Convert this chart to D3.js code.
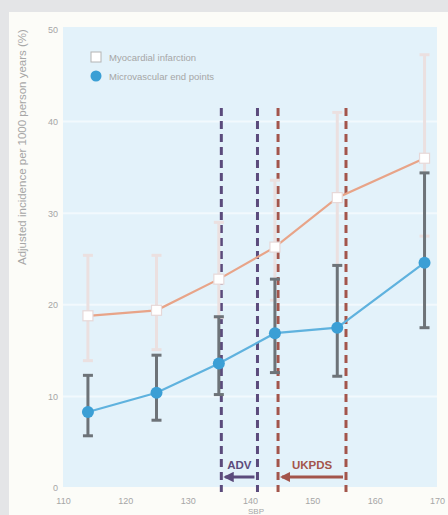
<!DOCTYPE html>
<html>
<head>
<meta charset="utf-8">
<script src="https://cdn.jsdelivr.net/npm/d3@7"></script>
<style>
  body { margin: 0; background: #e4e5e7; }
  svg { display: block; font-family: "Liberation Sans", Arial, sans-serif; }
</style>
</head>
<body>
<div id="chart"></div>
<script>
// data
const sbp = [114, 125, 135, 144, 154, 168];
const miMean = [18.8, 19.4, 22.8, 26.3, 31.7, 36.0];
const miHigh = [25.4, 25.4, 29.0, 33.6, 41.0, 47.3];
const miLow = [13.9, 15.1, 18.6, 20.5, 24.3, 27.5];
const mvMean = [8.3, 10.4, 13.6, 16.9, 17.5, 24.6];
const mvHigh = [12.3, 14.5, 18.7, 22.8, 24.3, 34.4];
const mvLow = [5.7, 7.4, 10.2, 12.6, 12.2, 17.5];
const xTicks = [110, 120, 130, 140, 150, 160, 170];
const yTicks = [0, 10, 20, 30, 40, 50];
const trials = [
  { name: "ADV", from: 141.2, to: 135.4, color: "#5b4b7c" },
  { name: "UKPDS", from: 155.4, to: 144.5, color: "#a3554b" }
];
const legendLabels = ["Myocardial infarction", "Microvascular end points"];

const width = 448, height = 515;
const plot = { left: 63, right: 437, top: 27, bottom: 487 };

const svg = d3.select("#chart").append("svg")
  .attr("width", width)
  .attr("height", height);

// card + plot background
svg.append("rect").attr("x", 9).attr("y", 12).attr("width", width - 9).attr("height", height - 12)
  .attr("fill", "#fcfcf8");
svg.append("rect").attr("x", plot.left).attr("y", plot.top)
  .attr("width", plot.right - plot.left).attr("height", plot.bottom - plot.top)
  .attr("fill", "#e3f2fa");

const x = d3.scaleLinear().domain([110, 170]).range([plot.left, plot.right]);
const y = d3.scaleLinear().domain([0, 50]).range([488, 30]);

// faint white gridlines
svg.append("g").selectAll("line")
  .data(yTicks.slice(1, 5))
  .join("line")
  .attr("x1", plot.left).attr("x2", plot.right)
  .attr("y1", d => y(d)).attr("y2", d => y(d))
  .attr("stroke", "#f2f9fd").attr("stroke-width", 2);

// axes (labels only)
const yAxis = svg.append("g")
  .attr("transform", `translate(${plot.left - 2},0)`)
  .call(d3.axisLeft(y).tickValues(yTicks).tickSize(0).tickPadding(3));
const xAxis = svg.append("g")
  .attr("transform", `translate(0,${495})`)
  .call(d3.axisBottom(x).tickValues(xTicks).tickSize(0).tickPadding(3));
[yAxis, xAxis].forEach(a => {
  a.select(".domain").remove();
  a.selectAll("text").attr("fill", "#a6a6a6").attr("font-size", 9);
});

svg.append("text")
  .attr("transform", `translate(26,265) rotate(-90)`)
  .attr("font-size", 11.5)
  .attr("fill", "#a6a6a6")
  .text("Adjusted incidence per 1000 person years (%)");

svg.append("text")
  .attr("x", 256).attr("y", 514)
  .attr("text-anchor", "middle")
  .attr("font-size", 8)
  .attr("fill", "#a6a6a6")
  .text("SBP");

// dashed trial lines + arrows
svg.append("defs").selectAll("marker")
  .data(trials)
  .join("marker")
  .attr("id", (d, i) => "arr" + i)
  .attr("viewBox", "0 0 10 10")
  .attr("refX", 8).attr("refY", 5)
  .attr("markerWidth", 3.5).attr("markerHeight", 3.5)
  .attr("orient", "auto")
  .append("path").attr("d", "M0,0 L10,5 L0,10 Z")
  .attr("fill", d => d.color);

trials.forEach((t, i) => {
  const g = svg.append("g");
  [t.from, t.to].forEach(v => {
    g.append("line")
      .attr("x1", x(v)).attr("x2", x(v))
      .attr("y1", 108).attr("y2", 492)
      .attr("stroke", t.color).attr("stroke-width", 3)
      .attr("stroke-dasharray", "8,5");
  });
  g.append("line")
    .attr("x1", x(t.from) - 3).attr("x2", x(t.to) + 4)
    .attr("y1", 477).attr("y2", 477)
    .attr("stroke", t.color).attr("stroke-width", 3)
    .attr("marker-end", `url(#arr${i})`);
  g.append("text")
    .attr("x", (x(t.from) + x(t.to)) / 2)
    .attr("y", 469)
    .attr("text-anchor", "middle")
    .attr("font-size", 11.5).attr("font-weight", "bold")
    .attr("fill", t.color)
    .text(t.name);
});

const idx = d3.range(sbp.length);

function errorBars(low, high, color, w) {
  const g = svg.append("g");
  g.selectAll(".eb").data(idx).join("line")
    .attr("x1", i => x(sbp[i])).attr("x2", i => x(sbp[i]))
    .attr("y1", i => y(low[i])).attr("y2", i => y(high[i]))
    .attr("stroke", color).attr("stroke-width", w);
  [low, high].forEach(arr => {
    g.selectAll(null).data(idx).join("line")
      .attr("x1", i => x(sbp[i]) - 5).attr("x2", i => x(sbp[i]) + 5)
      .attr("y1", i => y(arr[i])).attr("y2", i => y(arr[i]))
      .attr("stroke", color).attr("stroke-width", w);
  });
}
// MI error bars (light)
errorBars(miLow, miHigh, "#ebe0e0", 3);

const line = d3.line().x(d => x(d[0])).y(d => y(d[1]));
svg.append("path")
  .datum(idx.map(i => [sbp[i], miMean[i]]))
  .attr("d", line).attr("fill", "none")
  .attr("stroke", "#e8a488").attr("stroke-width", 2.2);

// microvascular error bars (dark)
errorBars(mvLow, mvHigh, "#6d7378", 3);

svg.append("path")
  .datum(idx.map(i => [sbp[i], mvMean[i]]))
  .attr("d", line).attr("fill", "none")
  .attr("stroke", "#5fb2de").attr("stroke-width", 2.2);

svg.append("g").selectAll("rect").data(idx).join("rect")
  .attr("x", i => x(sbp[i]) - 5).attr("y", i => y(miMean[i]) - 5)
  .attr("width", 10).attr("height", 10)
  .attr("fill", "#ffffff").attr("stroke", "#e6d8d8").attr("stroke-width", 1.2);

svg.append("g").selectAll("circle").data(idx).join("circle")
  .attr("cx", i => x(sbp[i])).attr("cy", i => y(mvMean[i]))
  .attr("r", 6).attr("fill", "#3b9fd5");

// legend
const leg = svg.append("g").attr("transform", "translate(96,57)");
leg.append("rect").attr("x", -5).attr("y", -5).attr("width", 10).attr("height", 10)
  .attr("fill", "#fff").attr("stroke", "#b4b4b4").attr("stroke-width", 1);
leg.append("circle").attr("cx", 0).attr("cy", 19).attr("r", 5.5).attr("fill", "#3b9fd5");
leg.selectAll("text").data(legendLabels).join("text")
  .attr("x", 13).attr("y", (d, i) => i * 19 + 3.5)
  .attr("font-size", 9.5).attr("fill", "#a6a6a6")
  .text(d => d);
</script>
</body>
</html>
